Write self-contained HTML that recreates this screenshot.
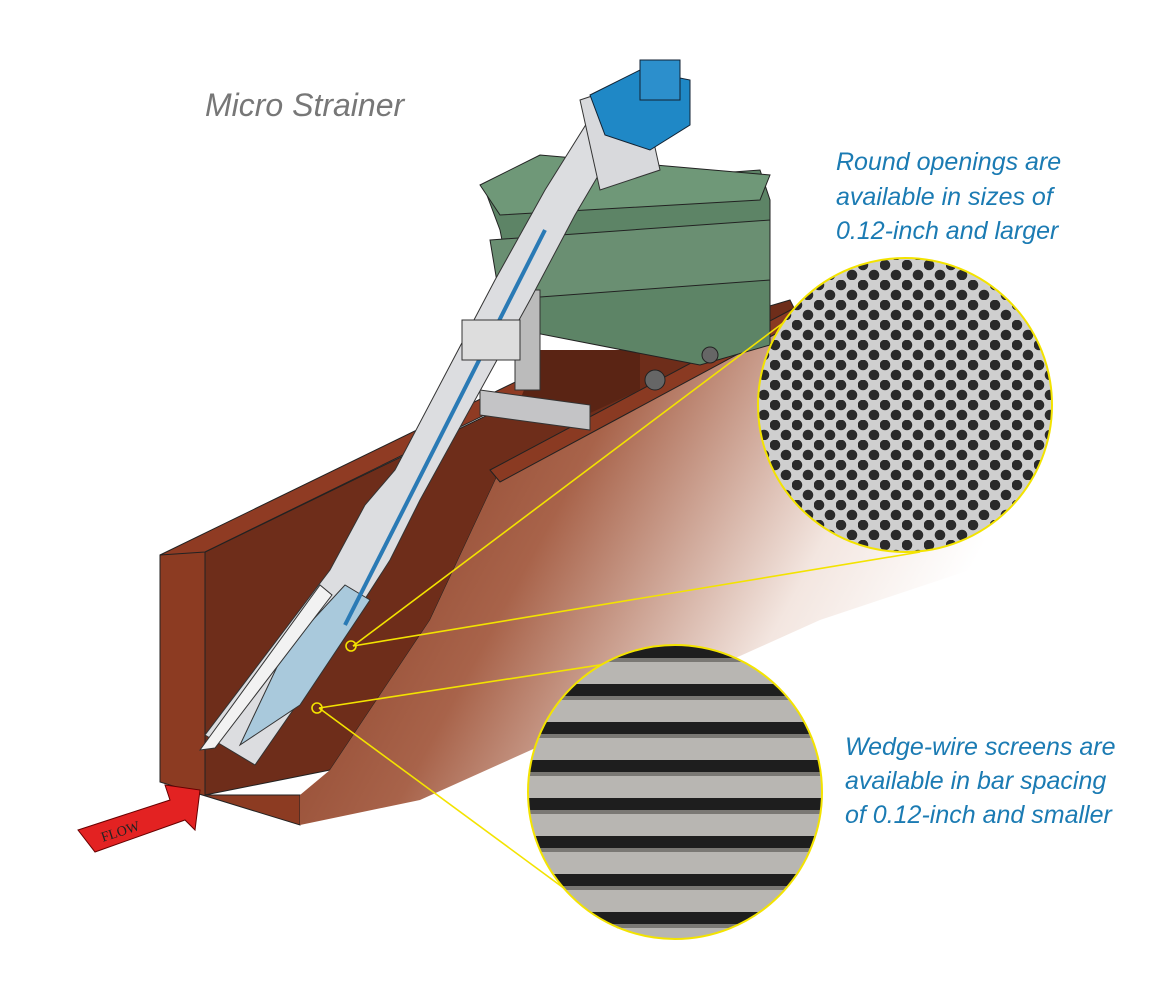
<!DOCTYPE html>
<html><head><meta charset="utf-8"><style>
html,body{margin:0;padding:0;background:#fff;}
svg{display:block}
</style></head><body>
<svg width="1170" height="988" viewBox="0 0 1170 988" xmlns="http://www.w3.org/2000/svg">
<defs>
<linearGradient id="wall" x1="0" y1="0" x2="1" y2="0.4">
<stop offset="0" stop-color="#7e3018"/><stop offset="0.45" stop-color="#a8634a"/><stop offset="0.8" stop-color="#f3e6e0"/><stop offset="1" stop-color="#fff"/>
</linearGradient>
<pattern id="holes" width="22" height="20" patternUnits="userSpaceOnUse">
<rect width="22" height="20" fill="#cfcfcf"/>
<circle cx="5" cy="5" r="5.3" fill="#2a2a2a"/>
<circle cx="16" cy="15" r="5.3" fill="#2a2a2a"/>
</pattern>
<pattern id="bars" width="60" height="38" patternUnits="userSpaceOnUse">
<rect width="60" height="38" fill="#b8b6b2"/>
<rect y="0" width="60" height="12" fill="#1e1e1e"/>
<rect y="12" width="60" height="4" fill="#7a7874"/>
</pattern>
<clipPath id="c1"><circle cx="905" cy="405" r="147"/></clipPath>
<clipPath id="c2"><circle cx="675" cy="792" r="147"/></clipPath>
</defs>

<!-- channel -->
<polygon points="205,552 560,380 620,350 790,300 800,320 500,470 430,620 330,770 205,795" fill="#6e2d1a" stroke="#222" stroke-width="1"/>
<polygon points="160,555 205,540 205,795 300,795 300,825 160,782" fill="#8c3b22" stroke="#222"/>
<polygon points="160,555 540,370 560,378 205,552" fill="#8f3b23" stroke="#222"/>
<polygon points="300,795 330,770 430,620 500,470 800,310 820,330 1000,560 820,620 420,800 300,825" fill="url(#wall)"/>
<polygon points="490,470 800,305 805,318 500,482" fill="#8a3a22" stroke="#222"/>
<polygon points="540,350 640,350 640,390 575,420 520,400" fill="#5a2414"/>

<!-- dumpster -->
<polygon points="485,190 760,170 770,200 770,345 700,365 520,330 500,230" fill="#5d8466" stroke="#222"/>
<polygon points="480,185 540,155 770,175 760,200 500,215" fill="#6f9878" stroke="#222"/>
<polygon points="490,240 770,220 770,280 500,300" fill="#6a8f72" stroke="#222"/>
<rect x="515" y="290" width="25" height="100" fill="#bbb" stroke="#333"/>
<polygon points="480,390 590,405 590,430 480,415" fill="#c4c4c6" stroke="#333"/>
<circle cx="655" cy="380" r="10" fill="#666" stroke="#222"/><circle cx="710" cy="355" r="8" fill="#666" stroke="#222"/>

<!-- machine tube -->
<polygon points="205,735 255,765 300,700 390,560 420,500 530,300 575,215 625,130 595,110 545,190 495,280 395,470 365,505 330,570" fill="#dcdde0" stroke="#333"/>
<polygon points="240,745 300,705 370,600 345,585 285,650" fill="#a9c9dc" stroke="#333"/>
<polygon points="200,750 320,585 332,595 215,748" fill="#f2f2f2" stroke="#333"/>
<line x1="545" y1="230" x2="345" y2="625" stroke="#2a7ab5" stroke-width="4"/>
<rect x="462" y="320" width="58" height="40" fill="#ddd" stroke="#333"/>
<polygon points="580,100 640,80 660,170 600,190" fill="#d8d9dc" stroke="#333"/>
<polygon points="590,95 640,70 690,80 690,125 650,150 605,135" fill="#1f88c6" stroke="#123"/>
<rect x="640" y="60" width="40" height="40" fill="#2c8fcc" stroke="#123"/>

<!-- flow arrow -->
<polygon points="78,830 170,800 165,785 200,790 195,830 185,820 95,852" fill="#e32222" stroke="#600"/>
<text x="100" y="836" transform="rotate(-18 120 830)" font-family="Liberation Serif, serif" font-size="14" fill="#222">FLOW</text>

<!-- callout lines -->
<g stroke="#f3e300" stroke-width="1.6" fill="none">
<line x1="353" y1="646" x2="787" y2="320"/>
<line x1="353" y1="646" x2="920" y2="552"/>
<line x1="319" y1="708" x2="645" y2="658"/>
<line x1="319" y1="708" x2="618" y2="928"/>
<circle cx="351" cy="646" r="5"/>
<circle cx="317" cy="708" r="5"/>
</g>

<!-- zoom circles -->
<g clip-path="url(#c1)"><rect x="750" y="250" width="310" height="310" fill="url(#holes)"/></g>
<circle cx="905" cy="405" r="147" fill="none" stroke="#f3e300" stroke-width="2"/>
<g clip-path="url(#c2)"><rect x="520" y="638" width="310" height="310" fill="url(#bars)"/></g>
<circle cx="675" cy="792" r="147" fill="none" stroke="#f3e300" stroke-width="2"/>

<!-- text -->
<text x="205" y="116" font-family="Liberation Sans, sans-serif" font-style="italic" font-size="32" fill="#777">Micro Strainer</text>
<g font-family="Liberation Sans, sans-serif" font-style="italic" font-size="25" fill="#1b7bb3">
<text x="836" y="170">Round openings are</text>
<text x="836" y="205">available in sizes of</text>
<text x="836" y="239">0.12-inch and larger</text>
<text x="845" y="755">Wedge-wire screens are</text>
<text x="845" y="789">available in bar spacing</text>
<text x="845" y="823">of 0.12-inch and smaller</text>
</g>
</svg>
</body></html>
